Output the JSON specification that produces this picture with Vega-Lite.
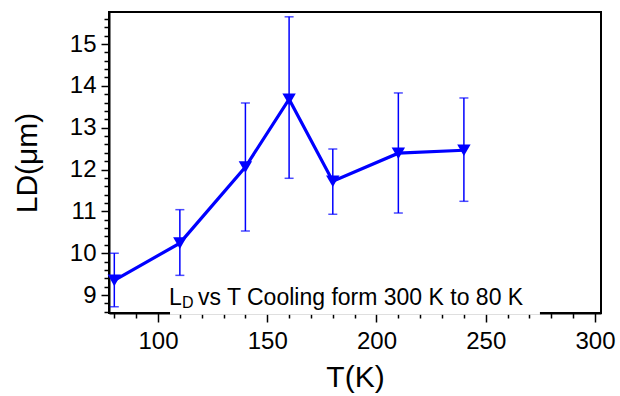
{
  "$schema": "https://vega.github.io/schema/vega-lite/v6.json",
  "autosize": {"type": "none"},
  "padding": {"left": 109, "top": 12, "right": 19, "bottom": 83},
  "width": 492,
  "height": 301,
  "background": "white",
  "config": {
    "view": {"stroke": "black", "strokeWidth": 2},
    "font": "Liberation Sans",
    "axis": {
      "zindex": 0,
      "grid": false,
      "domainColor": "black",
      "domainWidth": 2,
      "tickColor": "black",
      "tickWidth": 1.5,
      "labelColor": "black",
      "labelFont": "Liberation Sans",
      "labelFontSize": 24,
      "titleFont": "Liberation Sans",
      "titleFontSize": 30,
      "titleFontWeight": "normal",
      "titleColor": "black",
      "labelOverlap": false,
      "labelFlush": false
    }
  },
  "data": {
    "values": [
      {"T": 80, "LD": 9.35, "lo": 8.72, "hi": 10.0},
      {"T": 110, "LD": 10.24, "lo": 9.47, "hi": 11.04},
      {"T": 140, "LD": 12.06, "lo": 10.53, "hi": 13.59},
      {"T": 160, "LD": 13.68, "lo": 11.79, "hi": 15.65},
      {"T": 180, "LD": 11.72, "lo": 10.93, "hi": 12.49},
      {"T": 210, "LD": 12.39, "lo": 10.96, "hi": 13.83},
      {"T": 240, "LD": 12.46, "lo": 11.24, "hi": 13.71}
    ]
  },
  "encoding": {
    "x": {
      "field": "T", "type": "quantitative",
      "scale": {"domain": [77.57, 302.75], "nice": false, "zero": false},
      "axis": {
        "title": "T(K)",
        "values": [80, 90, 100, 110, 120, 130, 140, 150, 160, 170, 180, 190, 200, 210, 220, 230, 240, 250, 260, 270, 280, 290, 300],
        "labelExpr": "datum.value % 50 === 0 ? datum.label : ''",
        "tickSize": {"condition": {"test": "datum.value % 50 === 0", "value": 9}, "value": 5},
        "labelPadding": 7,
        "titlePadding": 9
      }
    },
    "y": {
      "field": "LD", "type": "quantitative",
      "scale": {"domain": [8.57, 15.765], "nice": false, "zero": false},
      "axis": {
        "title": "LD(μm)",
        "values": [8.6, 8.8, 9, 9.2, 9.4, 9.6, 9.8, 10, 10.2, 10.4, 10.6, 10.8, 11, 11.2, 11.4, 11.6, 11.8, 12, 12.2, 12.4, 12.6, 12.8, 13, 13.2, 13.4, 13.6, 13.8, 14, 14.2, 14.4, 14.6, 14.8, 15, 15.2, 15.4, 15.6],
        "labelExpr": "abs(datum.value - round(datum.value)) < 0.01 ? format(datum.value, 'd') : ''",
        "tickSize": {"condition": {"test": "abs(datum.value - round(datum.value)) < 0.01", "value": 8}, "value": 5},
        "labelPadding": 5,
        "titlePadding": 27
      }
    }
  },
  "layer": [
    {
      "data": {"values": [{"x1": 105.5, "x2": 274.8, "y1": 8.53, "y2": 9.3}]},
      "mark": {"type": "rect", "fill": "white", "clip": false},
      "encoding": {
        "x": {"field": "x1", "type": "quantitative"},
        "x2": {"field": "x2"},
        "y": {"field": "y1", "type": "quantitative"},
        "y2": {"field": "y2"}
      }
    },
    {
      "mark": {"type": "rule", "color": "#0000ff", "strokeWidth": 1.5},
      "encoding": {
        "y": {"field": "lo", "type": "quantitative"},
        "y2": {"field": "hi"}
      }
    },
    {
      "mark": {"type": "tick", "color": "#0000ff", "orient": "horizontal", "size": 9, "thickness": 1.5},
      "encoding": {"y": {"field": "lo", "type": "quantitative"}}
    },
    {
      "mark": {"type": "tick", "color": "#0000ff", "orient": "horizontal", "size": 9, "thickness": 1.5},
      "encoding": {"y": {"field": "hi", "type": "quantitative"}}
    },
    {
      "mark": {"type": "line", "color": "#0000ff", "strokeWidth": 3.2},
      "encoding": {}
    },
    {
      "mark": {"type": "point", "shape": "triangle-down", "filled": true, "color": "#0000ff", "size": 180, "opacity": 1},
      "encoding": {}
    },
    {
      "data": {"values": [
        {"tx": 105.0, "ty": 8.756, "txt": "L", "fs": "big"},
        {"tx": 111.0, "ty": 8.68, "txt": "D", "fs": "small"},
        {"tx": 118.3, "ty": 8.756, "txt": "vs T Cooling form 300 K to 80 K", "fs": "big"}
      ]},
      "mark": {"type": "text", "align": "left", "baseline": "alphabetic", "color": "black", "font": "Liberation Sans", "clip": false},
      "encoding": {
        "x": {"field": "tx", "type": "quantitative"},
        "y": {"field": "ty", "type": "quantitative"},
        "text": {"field": "txt"},
        "size": {"field": "fs", "type": "nominal", "scale": {"domain": ["big", "small"], "range": [23, 16]}, "legend": null}
      }
    }
  ]
}
